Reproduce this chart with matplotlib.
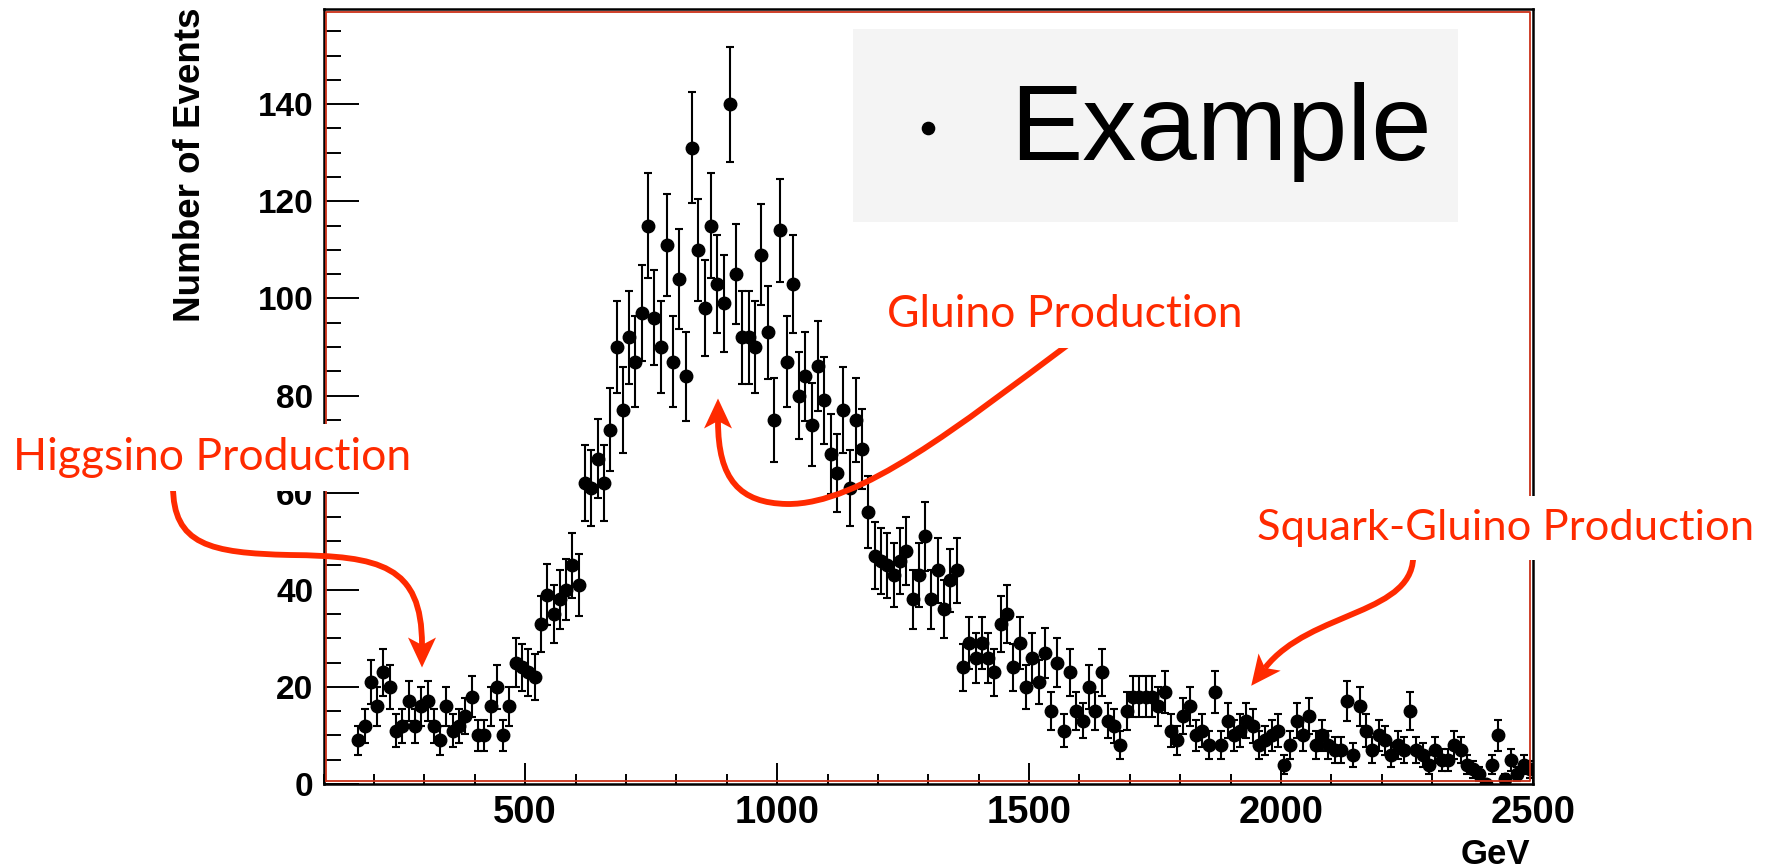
import numpy as np
import matplotlib
matplotlib.use("Agg")
import matplotlib.pyplot as plt
from matplotlib.path import Path
from matplotlib.patches import PathPatch, Polygon, Rectangle
from matplotlib.lines import Line2D
from matplotlib.ticker import MultipleLocator

# ---------------- data ----------------
bin_width = 12.5
first_bin_center = 168.75
counts = [
    9, 12, 21, 16, 23, 20, 11, 12, 17, 12,
    16, 17, 12, 9, 16, 11, 12, 14, 18, 10,
    10, 16, 20, 10, 16, 25, 24, 23, 22, 33,
    39, 35, 38, 40, 45, 41, 62, 61, 67, 62,
    73, 90, 77, 92, 87, 97, 115, 96, 90, 111,
    87, 104, 84, 131, 110, 98, 115, 103, 99, 140,
    105, 92, 92, 90, 109, 93, 75, 114, 87, 103,
    80, 84, 74, 86, 79, 68, 64, 77, 61, 75,
    69, 56, 47, 46, 45, 43, 46, 48, 38, 43,
    51, 38, 44, 36, 42, 44, 24, 29, 26, 29,
    26, 23, 33, 35, 24, 29, 20, 26, 21, 27,
    15, 25, 11, 23, 15, 13, 20, 15, 23, 13,
    12, 8, 15, 18, 18, 18, 18, 16, 19, 11,
    9, 14, 16, 10, 11, 8, 19, 8, 13, 10,
    11, 13, 12, 8, 9, 10, 11, 4, 8, 13,
    10, 14, 8, 10, 8, 7, 7, 17, 6, 16,
    11, 7, 10, 9, 6, 8, 7, 15, 7, 6,
    4, 7, 5, 5, 8, 7, 4, 3, 2, 0,
    4, 10, 1, 5, 2, 4, 3,
]
x_ticks = [500, 1000, 1500, 2000, 2500]
y_ticks = [0, 20, 40, 60, 80, 100, 120, 140]
x_range = (100, 2500)
y_range = (0, 159.6)
x_title = "GeV"
y_title = "Number of Events"
legend_label = "Example"
note_higgsino = "Higgsino Production"
note_gluino = "Gluino Production"
note_squark = "Squark-Gluino Production"

# ---------------- layout / style ----------------
W, H, DPI = 1780, 868, 100
RED = "#ff2a00"
FRAME_RED = "#cc3018"
HELV = ["Liberation Sans", "DejaVu Sans"]
GILL = ["Lato", "DejaVu Sans"]


def fxy(px, py):
    return (px / W, 1.0 - py / H)


fig = plt.figure(figsize=(W / DPI, H / DPI), dpi=DPI)
fig.patch.set_facecolor("white")

AX_L, AX_R, AX_T, AX_B = 323.6, 1533.0, 9.0, 784.0
x0, y0 = fxy(AX_L, AX_B)
x1, y1 = fxy(AX_R, AX_T)
ax = fig.add_axes([x0, y0, x1 - x0, y1 - y0])
ax.set_xlim(*x_range)
ax.set_ylim(*y_range)

centers = first_bin_center + bin_width * np.arange(len(counts))
values = np.array(counts, dtype=float)
errors = np.sqrt(values)

# legend box (drawn like the ROOT TLegend)
lx0, ly0 = fxy(853, 222)
lx1, ly1 = fxy(1458, 29)
ax.add_patch(Rectangle((lx0, ly0), lx1 - lx0, ly1 - ly0, transform=fig.transFigure,
                       facecolor="#f4f4f4", edgecolor="none", zorder=0.5))
ax.add_line(Line2D([fxy(928, 128)[0]], [fxy(928, 128)[1]], transform=fig.transFigure,
                   marker="o", ms=8.8, color="black", ls="none", zorder=4))
ax.text(*fxy(1010, 160), legend_label, transform=fig.transFigure, fontsize=78,
        family=HELV, ha="left", va="baseline", color="black", zorder=4)

# data points with error bars
ax.errorbar(centers, values, yerr=errors, fmt="o", color="black", ms=9.0,
            elinewidth=1.5, capsize=2.8, capthick=1.5, zorder=3)

# axes styling
for s in ax.spines.values():
    s.set_linewidth(1.8)
    s.set_color("black")
ax.set_xticks(x_ticks)
ax.set_yticks(y_ticks)
ax.xaxis.set_minor_locator(MultipleLocator(100))
ax.yaxis.set_minor_locator(MultipleLocator(5))
ax.tick_params(axis="x", which="major", direction="in", length=15, width=1.4,
               labelsize=27.5, pad=8, top=False)
ax.tick_params(axis="x", which="minor", direction="in", length=7.5, width=1.4, top=False)
ax.tick_params(axis="y", which="major", direction="in", length=25, width=1.4,
               labelsize=24, pad=7.5, right=False)
ax.tick_params(axis="y", which="minor", direction="in", length=12.5, width=1.4, right=False)
for lbl in ax.get_xticklabels() + ax.get_yticklabels():
    lbl.set_family(HELV)
    lbl.set_fontweight("bold")

# red inner frame line
fl, fr, ft, fb = AX_L + 2.6, AX_R - 2.6, AX_T + 2.6, AX_B - 2.6
xs = [fl, fr, fr, fl, fl]
ys = [fb, fb, ft, ft, fb]
fig.add_artist(Line2D([fxy(a, b)[0] for a, b in zip(xs, ys)],
                      [fxy(a, b)[1] for a, b in zip(xs, ys)],
                      transform=fig.transFigure, color=FRAME_RED, lw=1.3, zorder=4))

# axis titles
fig.text(*fxy(191, 8), y_title, rotation=90, ha="center", va="top",
         fontsize=26.5, fontweight="bold", family=HELV)
fig.text(*fxy(1530, 864), x_title, ha="right", va="baseline",
         fontsize=25, fontweight="bold", family=HELV)


# ---------------- annotations ----------------
def curved_arrow(pts, L=30.0, Wd=28.0):
    verts = [fxy(*p) for p in pts]
    codes = [Path.MOVETO] + [Path.CURVE4] * (len(pts) - 1)
    fig.add_artist(PathPatch(Path(verts, codes), transform=fig.transFigure,
                             fc="none", ec=RED, lw=4.2, capstyle="butt", zorder=5))
    c = np.array(pts[-2], dtype=float)
    N = np.array(pts[-1], dtype=float)
    d = N - c
    d /= np.hypot(*d)
    n = np.array([-d[1], d[0]])
    T = N + 0.75 * L * d
    c1 = N - 0.25 * L * d + Wd / 2 * n
    c2 = N - 0.25 * L * d - Wd / 2 * n
    fig.add_artist(Polygon([fxy(*p) for p in (T, c1, N, c2)], closed=True,
                           transform=fig.transFigure, fc=RED, ec="none", zorder=5))


def note(px, py, txt, size=32):
    fig.text(*fxy(px, py), txt, ha="left", va="baseline", fontsize=size,
             family=GILL, color=RED, zorder=6,
             bbox=dict(boxstyle="square,pad=0.3", facecolor="white", edgecolor="none"))


curved_arrow([(173, 486), (173, 545), (210, 553), (290, 555),
              (380, 556), (422, 565), (422, 645)])
curved_arrow([(1069, 344), (960, 425), (860, 505), (787, 504),
              (740, 503), (718, 480), (718, 421)])
curved_arrow([(1413, 552), (1418, 615), (1310, 610), (1265, 668)])

note(13, 470, note_higgsino)
note(887, 327, note_gluino)
note(1257, 540, note_squark, size=31.3)

fig.savefig("out.png", dpi=DPI)
